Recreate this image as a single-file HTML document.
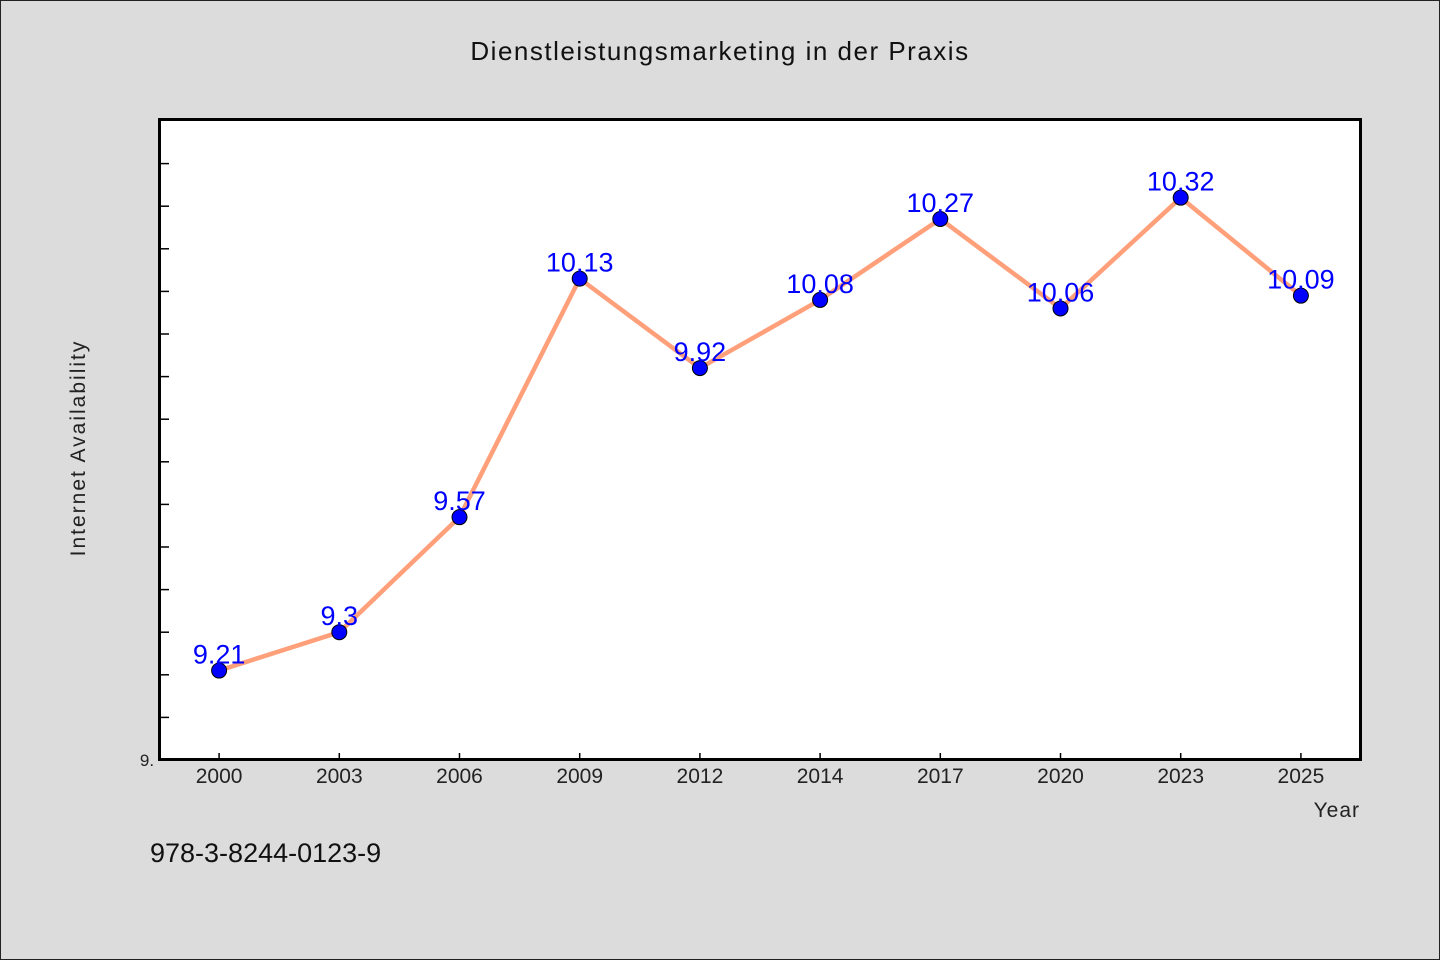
<!DOCTYPE html>
<html><head><meta charset="utf-8"><style>
html,body{margin:0;padding:0;background:#dcdcdc}
svg{display:block}
text{font-family:"WenQuanYi Zen Hei","Liberation Sans",sans-serif}
</style></head><body>
<svg width="1440" height="960">
<rect x="0.5" y="0.5" width="1439" height="959" fill="#dcdcdc" stroke="#222"/>
<text x="720" y="60" font-size="26" text-anchor="middle" fill="#111" letter-spacing="1.5">Dienstleistungsmarketing in der Praxis</text>
<rect x="159.5" y="119.5" width="1201" height="640" fill="#fff" stroke="none"/>
<g id="ticks"></g>
<g id="marks"></g>
<rect x="159.5" y="119.5" width="1201" height="640" fill="none" stroke="#000" stroke-width="3"/>
<text x="147" y="766" font-size="17" text-anchor="middle" fill="#222">9.</text>
<text x="85" y="448" font-size="21" text-anchor="middle" fill="#222" letter-spacing="2" transform="rotate(-90 85 448)">Internet Availability</text>
<text x="1360" y="817" font-size="21" text-anchor="end" fill="#222" letter-spacing="1">Year</text>
<text x="150" y="862" font-size="27" fill="#111">978-3-8244-0123-9</text>
</svg>
<script>
const categories=["2000","2003","2006","2009","2012","2014","2017","2020","2023","2025"];
const values=[9.21,9.3,9.57,10.13,9.92,10.08,10.27,10.06,10.32,10.09];
const labels=["9.21","9.3","9.57","10.13","9.92","10.08","10.27","10.06","10.32","10.09"];
const NS="http://www.w3.org/2000/svg";
const x0=159,band=120.2,yBase=760,yMin=9,pxPerUnit=426;
const xs=i=>x0+band*(i+0.5);
const ys=v=>yBase-(v-yMin)*pxPerUnit;
function mk(tag,attrs,parent){const e=document.createElementNS(NS,tag);for(const k in attrs)e.setAttribute(k,attrs[k]);parent.appendChild(e);return e;}
const tg=document.getElementById('ticks'),mg=document.getElementById('marks');
for(let k=1;k<=14;k++){const y=ys(yMin+k*0.1);if(y<121)break;
 const t=mk('line',{x1:161,x2:169,y1:y,y2:y,stroke:'#000','stroke-width':1.5},tg);
 
 }
categories.forEach((c,i)=>{
 const t=mk('line',{x1:xs(i),x2:xs(i),y1:753,y2:760,stroke:'#000','stroke-width':1.5},tg);
 
 
 const l=mk('text',{x:xs(i),y:783,'font-size':21,'text-anchor':'middle',fill:'#222'},tg);
 l.textContent=c;
 
 
});
const line=mk('polyline',{points:values.map((v,i)=>xs(i)+','+ys(v)).join(' '),fill:'none',stroke:'#ffa07a','stroke-width':4.5,'stroke-linejoin':'round'},mg);


values.forEach((v,i)=>{
 const p=mk('circle',{cx:xs(i),cy:ys(v),r:7.5,fill:'#0000ff',stroke:'#000','stroke-width':1},mg);
 
 
});
values.forEach((v,i)=>{
 const t=mk('text',{x:xs(i),y:ys(v)-7,'font-size':27,'text-anchor':'middle',fill:'#0000ff'},mg);
 t.textContent=labels[i];
 
 
});
</script>
</body></html>
